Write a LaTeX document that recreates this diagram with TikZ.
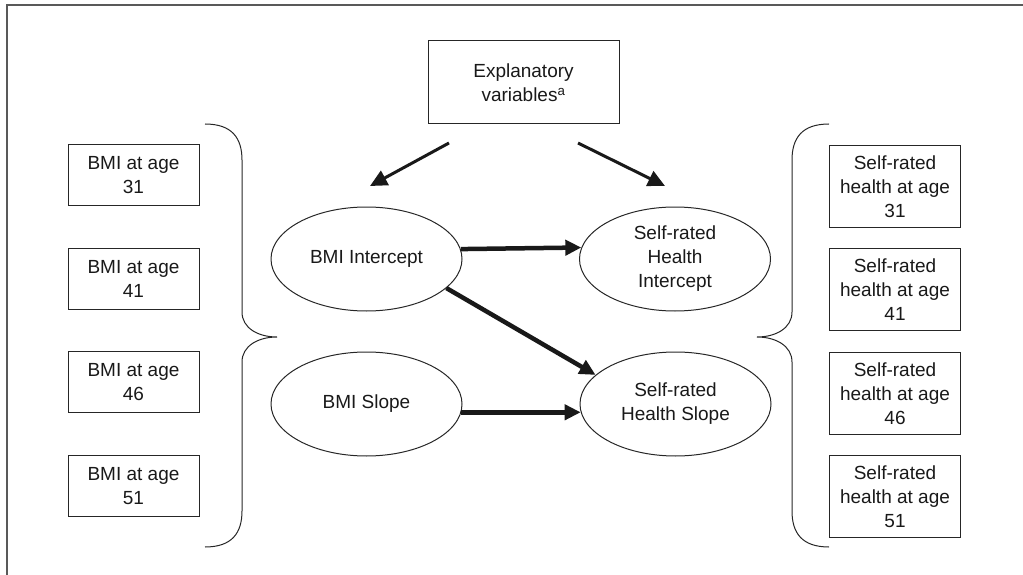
\documentclass[tikz,border=0pt]{standalone}
\usepackage{fontspec}
\setmainfont{Liberation Sans}
\usetikzlibrary{shapes.geometric}
\usetikzlibrary{arrows.meta}

\begin{document}
\begin{tikzpicture}[x=1pt,y=-1pt,
  obsbox/.style={draw=black!85,line width=1pt,rectangle,minimum width=131pt,inner sep=0pt,
    align=center,font=\fontsize{19}{24}\selectfont,text=black!90},
  latent/.style={draw=black!85,line width=1pt,ellipse,minimum width=191pt,minimum height=104pt,
    inner sep=0pt,align=center,font=\fontsize{19}{24}\selectfont,text=black!90},
  bigarrow/.style={-{Triangle[length=16pt,width=15pt]},line width=4.5pt,black!90}]
  \useasboundingbox (0,0) rectangle (1023,575);
  % frame, cut off at right and bottom
  \draw[black!65,line width=1.5pt] (7,590) -- (7,5) -- (1040,5);

  \node[obsbox,minimum width=191pt,minimum height=83pt] (expl) at (523.5,82.5) {Explanatory\\variables\textsuperscript{a}};

  % observed BMI
  \node[obsbox,minimum height=61pt,anchor=north] (bmi31) at (133.5,144) {BMI at age\\31};
  \node[obsbox,minimum height=61pt,anchor=north] (bmi41) at (133.5,248) {BMI at age\\41};
  \node[obsbox,minimum height=61pt,anchor=north] (bmi46) at (133.5,351) {BMI at age\\46};
  \node[obsbox,minimum height=61pt,anchor=north] (bmi51) at (133.5,455) {BMI at age\\51};

  % observed self-rated health
  \node[obsbox,minimum height=82pt,anchor=north] (srh31) at (895,145) {Self-rated\\health at age\\31};
  \node[obsbox,minimum height=82pt,anchor=north] (srh41) at (895,248) {Self-rated\\health at age\\41};
  \node[obsbox,minimum height=82pt,anchor=north] (srh46) at (895,352) {Self-rated\\health at age\\46};
  \node[obsbox,minimum height=82pt,anchor=north] (srh51) at (895,455) {Self-rated\\health at age\\51};

  % growth factors
  \node[latent] (bmiint) at (366.5,259) {BMI Intercept};
  \node[latent] (srhint) at (675,259) {Self-rated\\Health\\Intercept};
  \node[latent] (bmislope) at (366.5,404) {BMI Slope};
  \node[latent] (srhslope) at (675.5,404) {Self-rated\\Health Slope};

  % braces
  \draw[black!85,line width=1pt] (205,124) .. controls (232,124) and (242,138) .. (242,160)
    -- (242,312) .. controls (242,328) and (258,337) .. (277,337)
    .. controls (258,337) and (242,346) .. (242,362)
    -- (242,511) .. controls (242,533) and (232,547) .. (205,547);
  \draw[black!85,line width=1pt] (829,124) .. controls (802,124) and (792,138) .. (792,160)
    -- (792,312) .. controls (792,328) and (776,337) .. (757,337)
    .. controls (776,337) and (792,346) .. (792,362)
    -- (792,511) .. controls (792,533) and (802,547) .. (829,547);

  \coordinate (el) at (449,143);
  \coordinate (elt) at (370,186);
  \coordinate (er) at (578,143);
  \coordinate (ert) at (665,186);
  \draw[bigarrow,line width=3pt,-{Triangle[length=17pt,width=16pt]}] (el) -- (elt);
  \draw[bigarrow,line width=3pt,-{Triangle[length=17pt,width=16pt]}] (er) -- (ert);

  \draw[bigarrow] (bmiint.6.7) -- (srhint.173.3);
  \draw[bigarrow] (bmiint.-20) -- (srhslope.160);
  \draw[bigarrow] (bmislope.-5.5) -- (srhslope.185.5);
\end{tikzpicture}
\end{document}
